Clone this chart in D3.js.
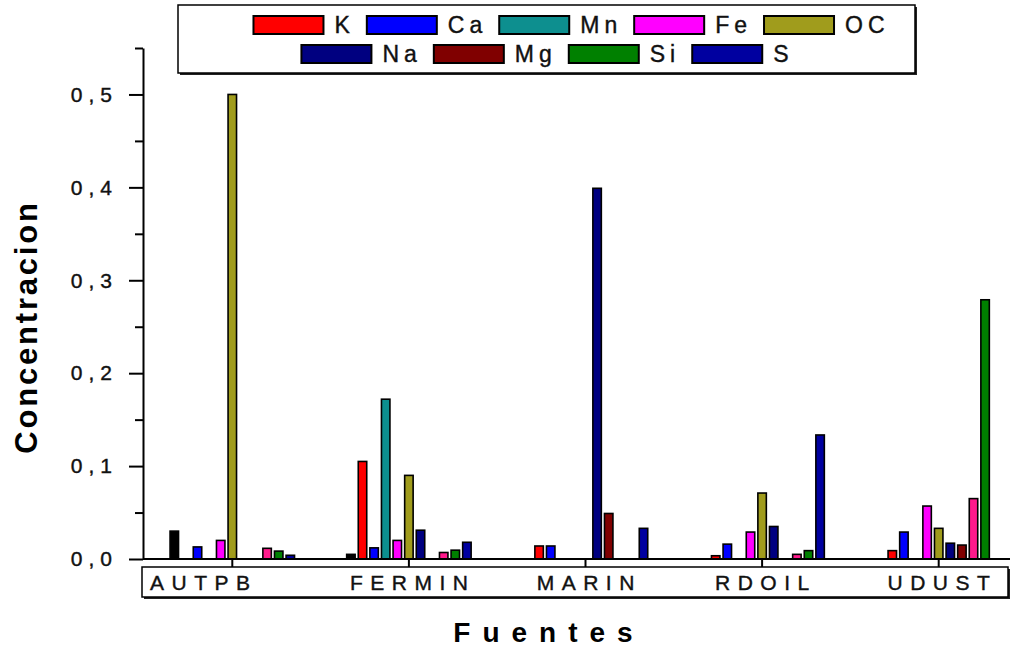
<!DOCTYPE html>
<html><head><meta charset="utf-8">
<script src="https://cdn.jsdelivr.net/npm/d3@7"></script>
<style>body{margin:0;background:#fff}svg{display:block}</style>
</head><body>
<svg id="c" width="1020" height="648"></svg>
<script>
// ---- data ----
const categories = ["AUTPB", "FERMIN", "MARIN", "RDOIL", "UDUST"];
// 11 series drawn per group; "EC" (black) and "Al" (deep pink) are not in the legend
const series = ["EC", "K", "Ca", "Mn", "Fe", "OC", "Na", "Mg", "Al", "Si", "S"];
const legendSeries = ["K", "Ca", "Mn", "Fe", "OC", "Na", "Mg", "Si", "S"];
const legendLabels = ["K", "Ca", "Mn", "Fe", "OC", "Na", "Mg", "Si", "S"];
const colors = {EC:"#000000", K:"#ff0000", Ca:"#0000ff", Mn:"#0d8f8f", Fe:"#ff00ff", OC:"#a09c1c",
                Na:"#000080", Mg:"#800000", Al:"#ff1a8c", Si:"#008000", S:"#0000a0"};
const valEC = [0.030, 0.005, 0,     0,      0];
const valK  = [0,     0.105, 0.014, 0.0035, 0.009];
const valCa = [0.013, 0.012, 0.014, 0.016,  0.029];
const valMn = [0,     0.172, 0,     0,      0];
const valFe = [0.020, 0.020, 0,     0.029,  0.057];
const valOC = [0.500, 0.090, 0,     0.071,  0.033];
const valNa = [0,     0.031, 0.399, 0.035,  0.017];
const valMg = [0,     0,     0.049, 0,      0.015];
const valAl = [0.0115,0.007, 0,     0.005,  0.065];
const valSi = [0.0085,0.0095,0,     0.009,  0.279];
const valS  = [0.004, 0.018, 0.033, 0.1335, 0];
const values = {EC:valEC, K:valK, Ca:valCa, Mn:valMn, Fe:valFe, OC:valOC, Na:valNa, Mg:valMg, Al:valAl, Si:valSi, S:valS};
const yMajorTicks = [0, 0.1, 0.2, 0.3, 0.4, 0.5];
const yMinorTicks = [0.05, 0.15, 0.25, 0.35, 0.45, 0.55];
const yTitle = "Concentracion";
const xTitle = "Fuentes";

// ---- drawing ----
const svg = d3.select("#c");
const FONT = "'Liberation Sans',Arial,sans-serif";
const FONTB = "'Liberation Sans',Arial,sans-serif";

const x0 = d3.scaleBand().domain(categories).range([144, 1027]);
const x1 = d3.scaleBand().domain(series).range([-63.8, 63.8]).paddingInner(0.27).paddingOuter(0.135);
const y = d3.scaleLinear().domain([0, 0.55]).range([559, 48]);

const rows = [];
categories.forEach((c, i) => series.forEach(s => {
  const v = values[s][i];
  if (v > 0) rows.push({c, s, v});
}));

svg.append("g").selectAll("rect").data(rows).join("rect")
  .attr("x", d => x0(d.c) + x0.bandwidth() / 2 + x1(d.s))
  .attr("y", d => y(d.v))
  .attr("width", x1.bandwidth())
  .attr("height", d => y(0) - y(d.v))
  .attr("fill", d => colors[d.s])
  .attr("stroke", "#000").attr("stroke-width", 1.6);

// y axis
const fmt = d => d3.format(".1f")(d).replace(".", ",");
const ya = svg.append("g").attr("transform", "translate(143,0)")
  .call(d3.axisLeft(y).tickValues(yMajorTicks).tickSize(14).tickSizeOuter(0).tickPadding(11).tickFormat(fmt));
ya.select(".domain").attr("stroke-width", 2);
ya.selectAll(".tick line").attr("stroke-width", 2);
ya.selectAll(".tick text").attr("font-family", FONT).attr("font-size", 21)
  .attr("letter-spacing", 6).attr("fill", "#111").attr("stroke", "#111").attr("stroke-width", 0.4);
const ym = svg.append("g").attr("transform", "translate(143,0)")
  .call(d3.axisLeft(y).tickValues(yMinorTicks).tickSize(8).tickFormat(""));
ym.select(".domain").remove();
ym.selectAll(".tick line").attr("stroke-width", 2);

// x axis
svg.append("line").attr("x1", 143).attr("x2", 1010).attr("y1", 559).attr("y2", 559)
  .attr("stroke", "#000").attr("stroke-width", 2);
const xa = svg.append("g").attr("transform", "translate(0,559)")
  .call(d3.axisBottom(x0).tickSize(8).tickSizeOuter(0).tickFormat(""));
xa.select(".domain").remove();
xa.selectAll(".tick line").attr("stroke-width", 2);

// category box
svg.append("rect").attr("x", 144).attr("y", 569).attr("width", 866).attr("height", 30).attr("fill", "#222");
svg.append("rect").attr("x", 142).attr("y", 567).attr("width", 866).attr("height", 30)
  .attr("fill", "#fff").attr("stroke", "#000").attr("stroke-width", 1.5);
const xl = svg.append("g");
categories.forEach((c, i) => {
  const t = xl.append("text").text(c).attr("y", 590)
    .attr("font-family", FONT).attr("font-size", 21).attr("letter-spacing", 7.5)
    .attr("fill", "#111").attr("stroke", "#111").attr("stroke-width", 0.4);
  const w = t.node().getComputedTextLength() - 7.5;
  const cx = i === 0 ? 150 + w / 2 : x0(c) + x0.bandwidth() / 2;
  t.attr("x", cx - w / 2);
});

// titles
svg.append("text").text(yTitle)
  .attr("transform", "translate(37,327) rotate(-90)")
  .attr("text-anchor", "middle").attr("font-family", FONTB).attr("font-weight", "bold")
  .attr("font-size", 31).attr("letter-spacing", 2.8).attr("fill", "#000");
svg.append("text").text(xTitle)
  .attr("x", 549).attr("y", 642)
  .attr("text-anchor", "middle").attr("font-family", FONTB).attr("font-weight", "bold")
  .attr("font-size", 28).attr("letter-spacing", 12).attr("fill", "#000");

// legend
svg.append("rect").attr("x", 180).attr("y", 7).attr("width", 737).attr("height", 68).attr("fill", "#222");
svg.append("rect").attr("x", 178).attr("y", 5).attr("width", 737).attr("height", 68)
  .attr("fill", "#fff").attr("stroke", "#000").attr("stroke-width", 1.5);
const legendRows = [legendSeries.slice(0, 5), legendSeries.slice(5)];
const rowY = [16, 45];
const rowCenter = [569, 545];
legendRows.forEach((row, ri) => {
  const g = svg.append("g");
  let xpos = 0;
  row.forEach(s => {
    const it = g.append("g").attr("transform", `translate(${xpos},0)`);
    it.append("rect").attr("x", 0).attr("y", rowY[ri]).attr("width", 70).attr("height", 18)
      .attr("fill", colors[s]).attr("stroke", "#000").attr("stroke-width", 2);
    const t = it.append("text").text(legendLabels[legendSeries.indexOf(s)])
      .attr("x", 81).attr("y", rowY[ri] + 17)
      .attr("font-family", FONT).attr("font-size", 23).attr("letter-spacing", 5)
      .attr("fill", "#111").attr("stroke", "#111").attr("stroke-width", 0.4);
    const w = t.node().getComputedTextLength();
    xpos += 81 + w + 12;
  });
  const total = xpos - 12 - 5;
  g.attr("transform", `translate(${rowCenter[ri] - total / 2},0)`);
});
</script>
</body></html>
